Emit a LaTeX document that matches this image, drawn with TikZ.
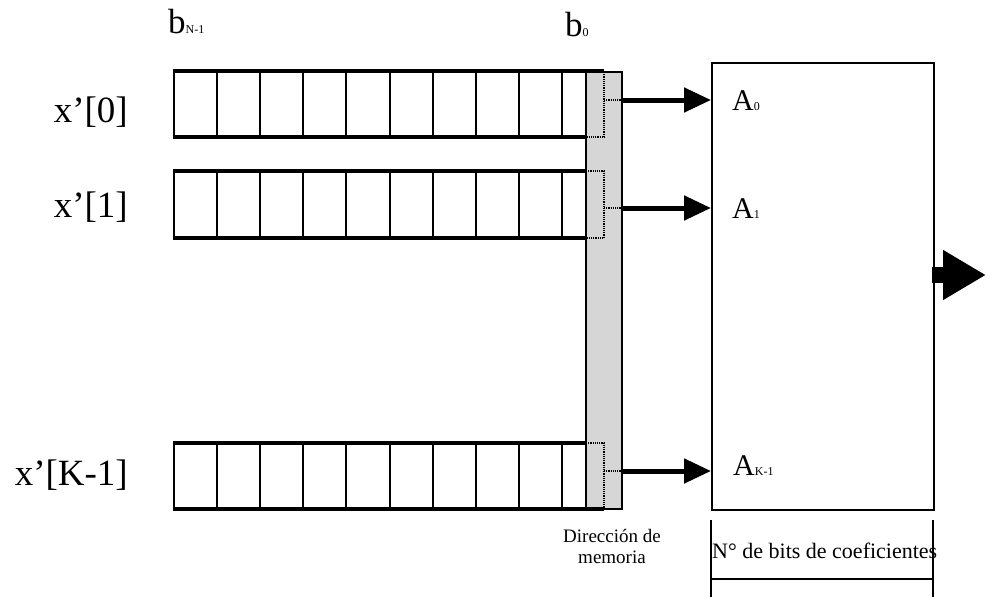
\documentclass[tikz,border=0pt]{standalone}
\usepackage{fontspec}
\setmainfont{Liberation Serif}
\usetikzlibrary{arrows.meta}
\begin{document}
\begin{tikzpicture}[x=1pt,y=-1pt,
  thickline/.style={line width=3.5pt},
  cellline/.style={line width=2pt},
  dotline/.style={line width=2.2pt, dash pattern=on 1.2pt off 1pt},
  bigarrow/.style={line width=5pt, -{Triangle[length=27pt 0 0,width=24pt 0 0]}},
  biglbl/.style={inner sep=0pt, font=\fontsize{37}{40}\selectfont},
  albl/.style={inner sep=0pt, font=\fontsize{30}{32}\selectfont, anchor=base west},
  blbl/.style={inner sep=0pt, font=\fontsize{35}{38}\selectfont, anchor=base west},
  subl/.style={font=\fontsize{12}{12}\selectfont},
  smalllbl/.style={inner sep=0pt, font=\fontsize{19}{21}\selectfont, align=center}]
\useasboundingbox (0,0) rectangle (986,597);

% address column
\fill[black!16] (586,72) rectangle (622,509);
\draw[cellline] (586,72) rectangle (622,509);

% registers: top, bottom
\foreach \T/\B in {71/137, 171/238, 443/509}{
  \draw[thickline] (172.5,\T) -- (586,\T);
  \draw[thickline] (172.5,\B) -- (586,\B);
  \draw[cellline] (174,\T) -- (174,\B);
  \foreach \k in {1,...,9}{
    \draw[cellline] ({174+43.1*\k},\T) -- ({174+43.1*\k},\B);
  }
}
% register 0 ending
\draw[thickline] (586,71) -- (604,71);
\draw[dotline] (604,72) -- (604,137) -- (586,137);
\draw[dotline] (604,100) -- (622,100);
% register 1 ending
\draw[dotline] (586,171) -- (604,171) -- (604,238) -- (586,238);
\draw[dotline] (604,208) -- (622,208);
% register K-1 ending
\draw[dotline] (586,443) -- (604,443) -- (604,508);
\draw[thickline] (586,509) -- (604,509);
\draw[dotline] (604,471) -- (622,471);

% memory box
\node[draw, line width=2pt, minimum width=222pt, minimum height=447pt, inner sep=0pt, anchor=north west] (mem) at (711,62) {};

\coordinate (r0) at (622,100);
\coordinate (r1) at (622,208);
\coordinate (rk) at (622,471);
\draw[bigarrow] (r0) -- (r0 -| mem.west);
\draw[bigarrow] (r1) -- (r1 -| mem.west);
\draw[bigarrow] (rk) -- (rk -| mem.west);

% output arrow
\coordinate (outstart) at (932,275);
\coordinate (outend) at (986,275);
\draw[line width=16pt, -{Triangle[length=43pt 0 0,width=47pt 0 0]}] (outstart) -- (outend);

% labels
\node[biglbl, anchor=base east] (x0) at (128,122) {x’[0]};
\node[biglbl, anchor=base east] (x1) at (128,217) {x’[1]};
\node[biglbl, anchor=base east] (xk) at (128,485) {x’[K-1]};

\node[blbl] (bn) at (168,33) {b{\fontsize{12}{12}\selectfont N-1}};
\node[blbl] (b0) at (565,36) {b{\fontsize{12}{12}\selectfont 0}};

\node[albl] (a0) at (732,110) {A{\fontsize{12}{12}\selectfont 0}};
\node[albl] (a1) at (732,218) {A{\fontsize{12}{12}\selectfont 1}};
\node[albl] (ak) at (733,475) {A{\fontsize{12}{12}\selectfont K-1}};

\node[smalllbl, anchor=base] (dir) at (612,563) {Dirección de\\memoria};

% coefficient-bits table
\draw[cellline] (711,520) -- (711,597);
\draw[cellline] (933,520) -- (933,597);
\draw[cellline] (711,579) -- (933,579);
\node[inner sep=0pt, anchor=base west, font=\fontsize{22}{24}\selectfont] (nb) at (712,558) {N° de bits de coeficientes};
\end{tikzpicture}
\end{document}
